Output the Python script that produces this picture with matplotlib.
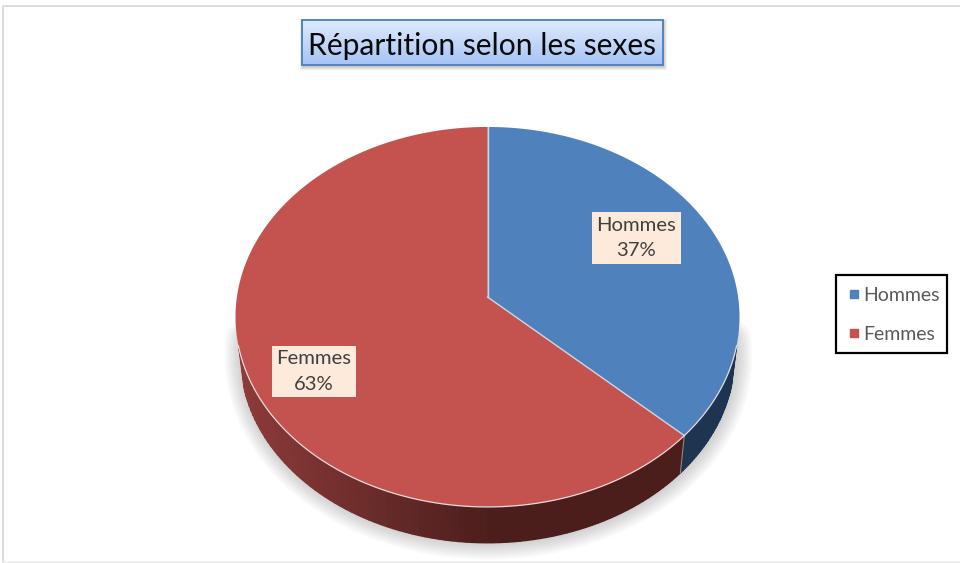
import numpy as np
import matplotlib
matplotlib.use("Agg")
import matplotlib.pyplot as plt
from matplotlib.colors import to_rgb
from matplotlib.patches import Rectangle
from matplotlib.lines import Line2D

plt.rcParams["font.family"] = ["Lato", "DejaVu Sans"]

title = "Répartition selon les sexes"
categories = ["Hommes", "Femmes"]
shares = [37, 63]
colors = ["#4f81bd", "#c4524f"]


def project(theta, r=1.0):
    # disc seen in perspective, theta clockwise from the top
    x = r * np.sin(theta)
    y = r * np.cos(theta)
    w = 0.105 * y + 1
    return 250.6 * x / w, -187.9 * y / w


def wall_color(px):
    t = np.clip((px - 240) / 250, 0, 1)
    a = np.array(to_rgb("#8c3b39"))
    b = np.array(to_rgb("#4b1e1c"))
    return a + (b - a) * t


fig = plt.figure(figsize=(9.6, 5.63), dpi=100)
ax = fig.add_axes([0, 0, 1, 1])
ax.set_xlim(0, 960)
ax.set_ylim(563, 0)
ax.axis("off")

# outer frame of the sheet, open on the right
ax.plot([960, 2.5, 2.5], [5.5, 5.5, 563], color="#dcdcdc", lw=1.4)
ax.plot([2.5, 960], [562.3, 562.3], color="#eeeeee", lw=1.2)

cx, cy = 487.5, 297
depth = 40
scale = 0.98
fractions = np.cumsum([0] + shares) / np.sum(shares)
angles = fractions * 2 * np.pi

# soft shadow under the side wall
t = np.linspace(0, 2 * np.pi, 400)
sx, sy = project(t)
low = sy > 0
order = np.argsort(sx[low])
for lw in np.arange(24, 1, -3):
    ax.plot((cx + scale * sx[low] + 1)[order], (cy + depth + scale * sy[low])[order],
            color="#555555", alpha=0.035, lw=lw, solid_capstyle="round", zorder=1)

# side wall, in thin strips, front part only
dark = {0: "#1d3550"}
for i in range(len(shares)):
    steps = np.linspace(angles[i], angles[i + 1], 160)
    for a0, a1 in zip(steps[:-1], steps[1:]):
        tt = np.linspace(a0, a1, 3)
        x, y = project(tt)
        if y.min() < 48:
            continue
        xs = np.r_[cx + x, (cx + scale * x)[::-1]]
        ys = np.r_[cy + y, (cy + depth + scale * y)[::-1]]
        col = dark[i] if i in dark else wall_color(cx + x.mean())
        ax.fill(xs, ys, facecolor=col, edgecolor=col, lw=1.0, zorder=2)

# cut in the wall where the two slices meet
xe, ye = project(np.array([angles[1]]))
ax.plot([cx + xe[0], cx + scale * xe[0]], [cy + ye[0], cy + depth + scale * ye[0]],
        color="#8a8a8a", lw=0.8, zorder=3)

# top face
for i in range(len(shares)):
    tt = np.linspace(angles[i], angles[i + 1], 300)
    x, y = project(tt)
    ax.fill(np.r_[cx, cx + x], np.r_[cy, cy + y], facecolor=colors[i],
            edgecolor="none", zorder=4)
    ax.plot([cx, cx + x[0]], [cy, cy + y[0]], color="#cfd6e2", lw=1.0, zorder=5)
    front = y > 48
    ax.plot((cx + x)[front], (cy + y)[front], color="#e6dcdc", lw=0.9, zorder=5)

# data labels
label_pos = [(636.5, 238), (314, 371.5)]
for name, share, pos in zip(categories, shares, label_pos):
    ax.text(pos[0], pos[1], f"{name}\n{share}%", ha="center", va="center",
            fontsize=14.6, color="#404040", linespacing=1.6, zorder=6,
            bbox=dict(boxstyle="square,pad=0.22", fc="#fdeada", ec="none"))

# title box with gradient and shadow
x0, x1, y0, y1 = 302, 663, 20, 65
for k in range(1, 5):
    ax.add_patch(Rectangle((x0 - k + 2, y0 - k + 3), x1 - x0 + 2 * k - 2, y1 - y0 + 2 * k - 2,
                           fc="#555555", ec="none", alpha=0.09, zorder=7))
grad = np.linspace(0, 1, 64)[:, None, None]
top, bottom = np.array(to_rgb("#dfeafd")), np.array(to_rgb("#a6c4f6"))
ax.imshow(top + (bottom - top) * grad, extent=(x0, x1, y1, y0), aspect="auto", zorder=8)
ax.set_xlim(0, 960)
ax.set_ylim(563, 0)
ax.add_patch(Rectangle((x0, y0), x1 - x0, y1 - y0, fc="none", ec="#4a7ebb", lw=1.3, zorder=9))
ax.text((x0 + x1) / 2, 46, title, ha="center", va="center", fontsize=21.6,
        color="#0a0a0a", zorder=10)

# legend, its frame drawn apart
ax.add_patch(Rectangle((836, 275), 111, 78, fc="white", ec="black", lw=1.6, zorder=11))
handles = [Line2D([], [], ls="none", marker="s", ms=6, color=c) for c in colors]
leg = ax.legend(handles, categories, loc="center", bbox_to_anchor=(892, 315),
                bbox_transform=ax.transData, fontsize=14, labelcolor="#595959",
                frameon=False, labelspacing=1.15, handletextpad=0.0, handlelength=0.95,
                borderpad=0, borderaxespad=0)
leg.set_zorder(12)

fig.savefig("out.png", dpi=100)
